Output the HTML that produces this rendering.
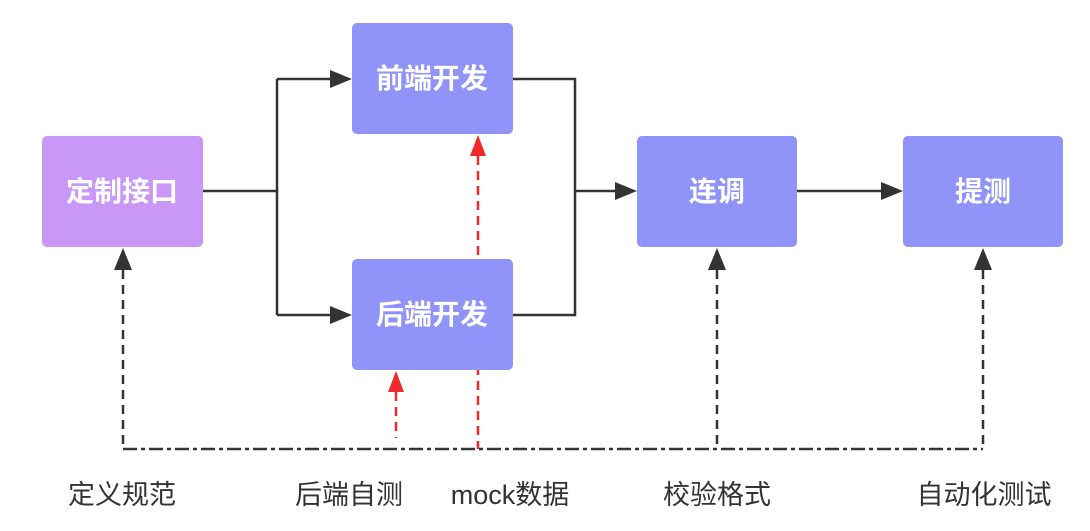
<!DOCTYPE html>
<html><head><meta charset="utf-8"><style>
html,body{margin:0;padding:0;background:#fff;width:1090px;height:531px;overflow:hidden}
svg text{font-family:"Liberation Sans","Noto Sans CJK SC",sans-serif}
</style></head><body>
<svg width="1090" height="531" viewBox="0 0 1090 531" xmlns="http://www.w3.org/2000/svg">
<!-- red (behind boxes) -->
<g stroke="#ee2a2a" stroke-width="2.5" fill="none" stroke-dasharray="9,6">
<path d="M478,156 V449"/>
<path d="M396,392 V438"/>
</g>
<g fill="#ee2a2a">
<path d="M478,135 L470,156 L486,156 z"/>
<path d="M396,371 L388,392 L404,392 z"/>
</g>
<!-- boxes -->
<rect x="42" y="136" width="161" height="111" rx="5" fill="#c997f8"/>
<rect x="352" y="23" width="161" height="111" rx="5" fill="#9093f7"/>
<rect x="352" y="259" width="161" height="111" rx="5" fill="#9093f7"/>
<rect x="637" y="136" width="160" height="111" rx="5" fill="#9093f7"/>
<rect x="903" y="136" width="160" height="111" rx="5" fill="#9093f7"/>
<g fill="#fff" font-size="28" font-weight="bold" text-anchor="middle">
<text x="122" y="201">定制接口</text>
<text x="432" y="88">前端开发</text>
<text x="432" y="324">后端开发</text>
<text x="717" y="201">连调</text>
<text x="983" y="201">提测</text>
</g>
<!-- solid connectors -->
<g stroke="#333" stroke-width="2.5" fill="none">
<path d="M203,191 H277"/>
<path d="M277,79 V315"/>
<path d="M277,79 H330"/>
<path d="M277,315 H330"/>
<path d="M513,79 H575 V315 H513"/>
<path d="M575,191 H615"/>
<path d="M797,191 H881"/>
</g>
<g fill="#333">
<path d="M352,79 L330,70 L330,88 z"/>
<path d="M352,315 L330,306 L330,324 z"/>
<path d="M637,191 L615,182 L615,200 z"/>
<path d="M903,191 L881,182 L881,200 z"/>
<path d="M123,248 L114,270 L132,270 z"/>
<path d="M717,248 L708,270 L726,270 z"/>
<path d="M983,248 L974,270 L992,270 z"/>
</g>
<!-- dashed black -->
<g stroke="#333" stroke-width="2.5" fill="none" stroke-dasharray="9,6">
<path d="M123,270 V449"/>
<path d="M717,270 V449"/>
<path d="M983,270 V449"/>
</g>
<path d="M123,449 H983" stroke="#333" stroke-width="2.5" stroke-dasharray="14,4,4,4" fill="none"/>
<!-- labels -->
<g fill="#333" font-size="27" text-anchor="middle">
<text x="122" y="504">定义规范</text>
<text x="349" y="504">后端自测</text>
<text x="510" y="504">mock数据</text>
<text x="717" y="504">校验格式</text>
<text x="984" y="504">自动化测试</text>
</g>
</svg>
</body></html>
